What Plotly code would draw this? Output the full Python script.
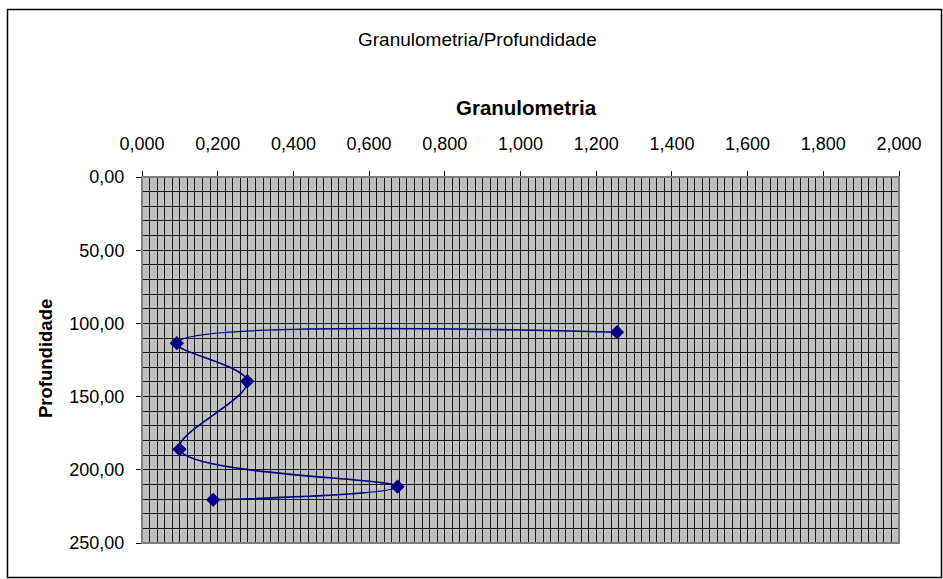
import plotly.graph_objects as go

# Data
granulometria = [1.255, 0.092, 0.278, 0.099, 0.675, 0.188]
profundidade = [106.0, 113.5, 139.5, 186.0, 211.5, 220.5]

title_text = "Granulometria/Profundidade"
x_title = "Granulometria"
y_title = "Profundidade"

W, H = 943, 579
PL, PR, PT, PB = 142, 899, 177, 543  # plot area pixels

def px_to_paper_x(px):
    return (px - PL) / (PR - PL)

def px_to_paper_y(py):
    return (PB - py) / (PB - PT)

FONT = "Arial, Liberation Sans, sans-serif"
NAVY = "#000080"

fig = go.Figure()
fig.add_trace(go.Scatter(
    x=granulometria, y=profundidade,
    mode="lines+markers",
    line=dict(color=NAVY, width=1.6, shape="spline", smoothing=1.0),
    marker=dict(symbol="diamond", size=11, color=NAVY),
    showlegend=False,
))

fig.update_layout(
    width=W, height=H,
    margin=dict(l=PL, r=W - PR, t=PT, b=H - PB),
    paper_bgcolor="white",
    plot_bgcolor="#C0C0C0",
    separators=",.",
    font=dict(family=FONT, size=18, color="black"),
    xaxis=dict(
        side="top", range=[0, 2], dtick=0.2, tick0=0, tickformat=".3f",
        ticks="outside", ticklen=5, tickcolor="black", ticklabelstandoff=14,
        showline=True, linecolor="black", linewidth=1, mirror=False,
        showgrid=True, gridcolor="#1a1a1a", gridwidth=1,
        minor=dict(dtick=0.02, showgrid=True, gridcolor="#1a1a1a", gridwidth=1, ticks=""),
        zeroline=False, tickfont=dict(size=18),
    ),
    yaxis=dict(
        range=[250, 0], dtick=50, tick0=0, tickformat=".2f",
        ticks="outside", ticklen=5, tickcolor="black", ticklabelstandoff=8,
        showline=True, linecolor="black", linewidth=1, mirror=False,
        showgrid=True, gridcolor="#1a1a1a", gridwidth=1,
        minor=dict(dtick=10, showgrid=True, gridcolor="#1a1a1a", gridwidth=1, ticks=""),
        zeroline=False, tickfont=dict(size=18),
    ),
    annotations=[
        dict(text=title_text, xref="paper", yref="paper",
             x=px_to_paper_x(477), y=px_to_paper_y(40), xanchor="center", yanchor="middle",
             showarrow=False, font=dict(family=FONT, size=19, color="black")),
        dict(text="<b>" + x_title + "</b>", xref="paper", yref="paper",
             x=px_to_paper_x(526), y=px_to_paper_y(108), xanchor="center", yanchor="middle",
             showarrow=False, font=dict(family=FONT, size=20.5, color="black")),
        dict(text="<b>" + y_title + "</b>", xref="paper", yref="paper",
             x=px_to_paper_x(45), y=px_to_paper_y(358), xanchor="center", yanchor="middle",
             textangle=-90, showarrow=False, font=dict(family=FONT, size=18.5, color="black")),
    ],
    shapes=[
        dict(type="rect", xref="paper", yref="paper",
             x0=px_to_paper_x(7.5), x1=px_to_paper_x(941.5),
             y0=px_to_paper_y(577.5), y1=px_to_paper_y(9.5),
             line=dict(color="black", width=1.5), fillcolor="rgba(0,0,0,0)", layer="above"),
        dict(type="rect", xref="paper", yref="paper", x0=0, x1=1, y0=0, y1=1,
             line=dict(color="#808080", width=2), fillcolor="rgba(0,0,0,0)", layer="above"),
    ],
)

fig.write_html(
    "out.html",
    config={"displayModeBar": False},
    post_script="document.body.style.margin='0';document.body.style.overflow='hidden';",
)
